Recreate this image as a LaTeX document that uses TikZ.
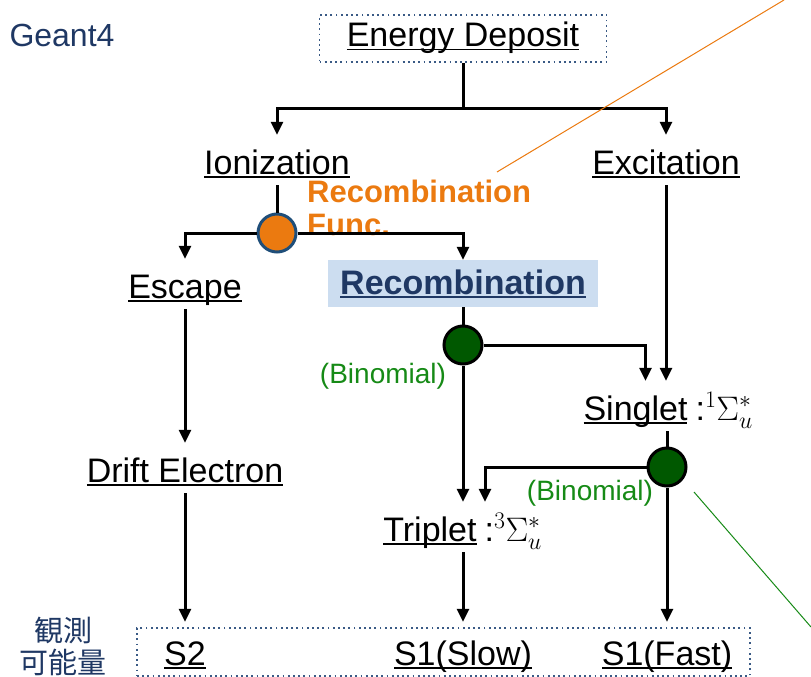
\RequirePackage{fix-cm}
\documentclass[tikz,border=0pt]{standalone}
\usepackage[no-math]{fontspec}
\setmainfont{Liberation Sans}
\newfontfamily\cjkfont{Noto Sans CJK JP}
\newcommand{\undl}[1]{\setbox0\hbox{#1}\rlap{\rule[-3.5pt]{\wd0}{1.8pt}}\box0}
\usetikzlibrary{arrows.meta, positioning}

\definecolor{navy}{HTML}{1F3864}
\definecolor{dotblue}{HTML}{3A5A85}
\definecolor{recfill}{HTML}{CCDDF0}
\definecolor{funcorange}{HTML}{EB7A10}
\definecolor{ringblue}{HTML}{1F4E79}
\definecolor{darkgreen}{HTML}{005800}
\definecolor{binogreen}{HTML}{168A16}

\begin{document}
\begin{tikzpicture}[
		x=1pt, y=-1pt,
		lbl/.style={font=\fontsize{34}{40}\selectfont, anchor=base, text height=31pt, text depth=3pt, inner ysep=8pt, inner xsep=2pt},
		obs/.style={lbl, text height=35pt},
		dotbox/.style={draw=dotblue, line width=1.8pt, dash pattern=on 1.8pt off 3.4pt},
		junc/.style={circle, minimum size=38pt, inner sep=0pt, line width=3pt},
		line/.style={line width=3pt},
		arrow/.style={line, -{Triangle[length=13pt, width=12pt]}},
		note/.style={font=\fontsize{28}{33}\selectfont, text=binogreen}
		]
		\useasboundingbox (0,0) rectangle (811,677);
		
		% Nodes
		\node[font=\fontsize{32}{38}\selectfont, text=navy] (geant) at (62,35) {Geant4};
		\node[lbl, dotbox, anchor=center, minimum width=287pt, minimum height=47pt, text height=24pt, text depth=7pt, inner ysep=0pt] (edep) at (463,38.5) {\undl{Energy Deposit}};
		
		\node[lbl] (ion) at (277,174) {\undl{Ionization}};
		\node[lbl] (exc) at (666,174) {\undl{Excitation}};
		
		\node[junc, fill=funcorange, draw=ringblue] (rf) at (277,233) {};
		\node[font=\fontsize{31}{33}\selectfont\bfseries, text=funcorange, align=left, anchor=north west, inner sep=0pt] (rftxt) at (307,180) {Recombination\\Func.};
		
		\node[lbl] (esc) at (185,298) {\undl{Escape}};
		\node[lbl, anchor=center, fill=recfill, text=navy, minimum width=270pt, minimum height=47pt, text height=24pt, text depth=3pt, inner ysep=0pt, font=\fontsize{34}{40}\selectfont\bfseries] (rec) at (463,283.5) {\undl{Recombination}};
		
		\node[junc, fill=darkgreen, draw=black] (g1) at (463,345) {};
		\node[note] (bino1) at (383,376) {(Binomial)};
		
		\node[lbl] (drift) at (185,482) {\undl{Drift Electron}};
		
		\node[lbl] (sing) at (635.5,420) {\undl{Singlet}};
		\node[lbl, anchor=base west, inner xsep=0pt] (singst) at (sing.base east) {\,:$^1\Sigma_u^*$};
		
		\node[junc, fill=darkgreen, draw=black] (g2) at (667,467) {};
		\node[note] (bino2) at (590,493) {(Binomial)};
		
		\node[lbl] (trip) at (430,541) {\undl{Triplet}};
		\node[lbl, anchor=base west, inner xsep=0pt] (tripst) at (trip.base east) {\,:$^3\Sigma_u^*$};
		
		\node[dotbox, minimum width=613pt, minimum height=48pt] (obsbox) at (443.5,652) {};
		\node[font=\cjkfont\fontsize{29}{32}\selectfont, text=navy, align=center] (obslbl) at (63,646) {観測\\可能量};
		\node[obs] (s2) at (185,665) {\undl{S2}};
		\node[obs] (s1s) at (463,665) {\undl{S1(Slow)}};
		\node[obs] (s1f) at (667,665) {\undl{S1(Fast)}};
		
		% Arrows
		\coordinate (fork) at (463,108);
		\draw[line] (edep) -- (fork);
		\draw[arrow] (fork) -| (ion.north);
		\draw[arrow] (fork) -| (exc.north);
		
		\draw[line] (ion) -- (rf);
		\draw[arrow] (rf) -| (esc.north);
		\draw[arrow] (rf) -| (rec.north);
		
		\draw[arrow] (esc) -- (drift);
		\draw[arrow] (drift) -- (s2);
		
		\draw[line] (rec) -- (g1);
		\draw[arrow] (g1) -| ([xshift=10pt]sing.north);
		\draw[arrow] (g1) -- (g1 |- trip.north);
		\draw[arrow] (exc) -- (exc |- sing.north);
		
		\draw[line] (g2 |- sing.south) -- (g2);
		\draw[arrow] (g2) -| ([xshift=55pt]trip.north);
		\draw[arrow] (g2) -- (s1f);
		\draw[arrow] (g1 |- trip.south) -- (s1s);
		
		% leader lines
		\coordinate (rfpin) at (497,172);
		\coordinate (rfend) at (784,0);
		\draw[funcorange, line width=1pt] (rfpin) -- (rfend);
		\coordinate (g2pin) at (694,492);
		\coordinate (g2end) at (811,627);
		\draw[binogreen, line width=1pt] (g2pin) -- (g2end);
		
	\end{tikzpicture}
\end{document}
